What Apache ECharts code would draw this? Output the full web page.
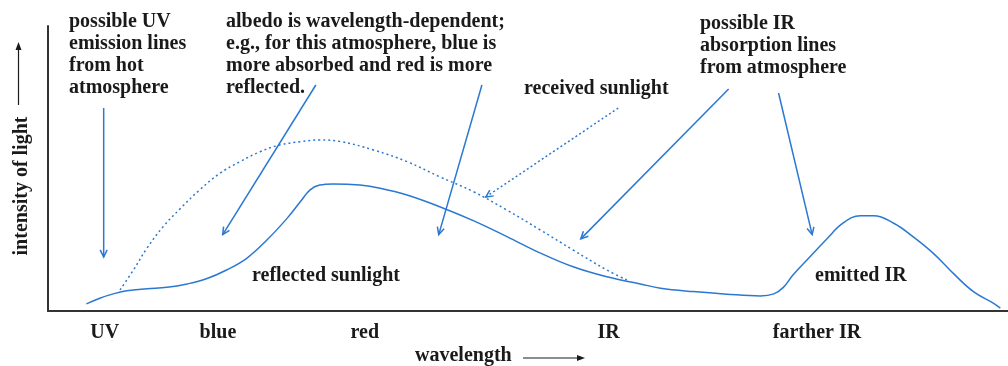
<!DOCTYPE html>
<html>
<head>
<meta charset="utf-8">
<script src="https://cdn.jsdelivr.net/npm/echarts@6/dist/echarts.min.js"></script>
<style>
  html, body { margin: 0; padding: 0; background: #fff; }
  #chart { width: 1008px; height: 366px; }
</style>
</head>
<body>
<div id="chart"></div>
<script>
// Wavelength (arbitrary units, 0-100) and intensity (arbitrary units, 0-100)
var reflectedX = [4.0, 5.4, 6.8, 8.2, 10.3, 12.4, 14.5, 16.5, 18.6, 20.7, 22.8, 24.9, 26.3, 27.3, 28.3, 29.7, 32.5, 34.6, 37.4, 40.8, 44.3, 47.8, 51.3, 54.7, 58.2, 61.7, 63.8, 67.2, 70.7, 74.2, 75.6, 76.6, 77.6, 79.4, 81.1, 82.8, 84.6, 86.0, 88.1, 90.1, 92.2, 94.3, 96.4, 98.5, 99.2];
var reflectedY = [2.5, 4.5, 6.0, 7.1, 7.8, 8.3, 9.5, 11.3, 14.4, 18.5, 24.9, 32.5, 38.4, 42.5, 44.2, 44.6, 44.2, 43.1, 40.7, 36.6, 31.7, 26.1, 20.3, 15.5, 12.0, 9.5, 8.0, 6.8, 5.9, 5.3, 6.0, 8.3, 12.6, 19.1, 25.2, 30.8, 33.4, 33.4, 30.8, 26.1, 20.3, 13.2, 6.8, 2.7, 1.0];

var receivedX = [7.5, 8.9, 10.3, 12.0, 13.8, 15.8, 17.9, 20.0, 22.1, 24.2, 26.3, 28.3, 30.4, 33.9, 37.4, 40.8, 44.3, 47.8, 51.3, 54.7, 58.2, 60.3];
var receivedY = [7.4, 14.4, 22.0, 29.6, 36.0, 42.5, 48.3, 52.4, 55.9, 58.3, 59.4, 60.0, 59.5, 56.5, 52.4, 47.1, 41.9, 35.4, 28.4, 21.4, 14.4, 10.9];

// Band labels along the wavelength axis
var bandNames = ['UV', 'blue', 'red', 'IR', 'farther IR'];
var bandValues = [5.9, 17.7, 33.0, 58.4, 80.1];

// Pointer arrows: from (x, y) to (x, y), dashed flag
var pointerFromX = [5.8, 27.9, 45.2, 59.4, 70.9, 76.1];
var pointerFromY = [71.2, 79.3, 79.3, 71.2, 77.9, 76.5];
var pointerToX = [5.8, 18.2, 40.7, 45.6, 55.5, 79.6];
var pointerToY = [18.9, 26.8, 26.8, 40.0, 25.3, 26.8];
var pointerDashed = [0, 0, 0, 1, 0, 0];

var BLUE = '#2a78d2';
var INK = '#1a1a1a';
var FONT = '"Liberation Serif", "DejaVu Serif", serif';
var FONT_SIZE = 20;

function zip(xs, ys) {
  return xs.map(function (x, i) { return [x, ys[i]]; });
}

var pointerData = pointerFromX.map(function (x, i) {
  return [x, pointerFromY[i], pointerToX[i], pointerToY[i], pointerDashed[i]];
});

function renderPointer(params, api) {
  var a = api.coord([api.value(0), api.value(1)]);
  var b = api.coord([api.value(2), api.value(3)]);
  var dashed = api.value(4) === 1;
  var ang = Math.atan2(b[1] - a[1], b[0] - a[0]);
  var len = 8, spread = 0.45;
  var h1 = [b[0] - len * Math.cos(ang - spread), b[1] - len * Math.sin(ang - spread)];
  var h2 = [b[0] - len * Math.cos(ang + spread), b[1] - len * Math.sin(ang + spread)];
  var stroke = { stroke: BLUE, lineWidth: 1.5, fill: null };
  return {
    type: 'group',
    children: [
      {
        type: 'line',
        shape: { x1: a[0], y1: a[1], x2: b[0], y2: b[1] },
        style: Object.assign({}, stroke, dashed ? { lineDash: [2, 2.5] } : {})
      },
      {
        type: 'polyline',
        shape: { points: [h1, b, h2] },
        style: stroke
      }
    ]
  };
}

var textStyleBase = { fill: INK, font: 'bold ' + FONT_SIZE + 'px ' + FONT };

function note(lines, left, top) {
  return {
    type: 'text',
    left: left,
    top: top,
    style: Object.assign({}, textStyleBase, { text: lines.join('\n'), lineHeight: 22 })
  };
}

var chart = echarts.init(document.getElementById('chart'));
chart.setOption({
  backgroundColor: '#ffffff',
  animation: false,
  grid: { left: 48, right: 0, top: 26, bottom: 55 },
  xAxis: {
    type: 'value',
    min: 0,
    max: 100,
    axisLine: { show: true, lineStyle: { color: '#333', width: 2 } },
    axisTick: { show: false },
    splitLine: { show: false },
    axisLabel: {
      customValues: bandValues,
      margin: 12,
      color: INK,
      fontFamily: FONT,
      fontWeight: 'bold',
      fontSize: FONT_SIZE,
      formatter: function (v) {
        var i = bandValues.indexOf(v);
        return i >= 0 ? bandNames[i] : '';
      }
    }
  },
  yAxis: {
    type: 'value',
    min: 0,
    max: 100,
    axisLine: { show: true, lineStyle: { color: '#333', width: 2 } },
    axisTick: { show: false },
    axisLabel: { show: false },
    splitLine: { show: false }
  },
  series: [
    {
      name: 'reflected sunlight',
      type: 'line',
      data: zip(reflectedX, reflectedY),
      smooth: 0.4,
      showSymbol: false,
      lineStyle: { color: BLUE, width: 1.5 },
      z: 3
    },
    {
      name: 'received sunlight',
      type: 'line',
      data: zip(receivedX, receivedY),
      smooth: 0.4,
      showSymbol: false,
      lineStyle: { color: BLUE, width: 1.5, type: [2, 3] },
      z: 3
    },
    {
      name: 'pointers',
      type: 'custom',
      renderItem: renderPointer,
      encode: { x: [0, 2], y: [1, 3] },
      data: pointerData,
      silent: true,
      z: 4
    }
  ],
  graphic: [
    note(['possible UV', 'emission lines', 'from hot', 'atmosphere'], 69, 11),
    note(['albedo is wavelength-dependent;', 'e.g., for this atmosphere, blue is', 'more absorbed and red is more', 'reflected.'], 226, 11),
    note(['received sunlight'], 524, 78),
    note(['possible IR', 'absorption lines', 'from atmosphere'], 700, 13),
    note(['reflected sunlight'], 252, 265),
    note(['emitted IR'], 815, 265),
    // Wavelength axis title with arrow
    note(['wavelength'], 415, 345),
    {
      type: 'line',
      shape: { x1: 523, y1: 358, x2: 582, y2: 358 },
      style: { stroke: INK, lineWidth: 1.2 }
    },
    {
      type: 'polygon',
      shape: { points: [[585, 358], [577, 355], [577, 361]] },
      style: { fill: INK }
    },
    // Intensity axis title with arrow
    {
      type: 'text',
      x: 22,
      y: 186,
      rotation: Math.PI / 2,
      style: Object.assign({}, textStyleBase, {
        text: 'intensity of light',
        align: 'center',
        verticalAlign: 'middle'
      })
    },
    {
      type: 'line',
      shape: { x1: 18.5, y1: 105, x2: 18.5, y2: 46 },
      style: { stroke: INK, lineWidth: 1.2 }
    },
    {
      type: 'polygon',
      shape: { points: [[18.5, 42], [15.5, 50], [21.5, 50]] },
      style: { fill: INK }
    }
  ]
});
</script>
</body>
</html>
